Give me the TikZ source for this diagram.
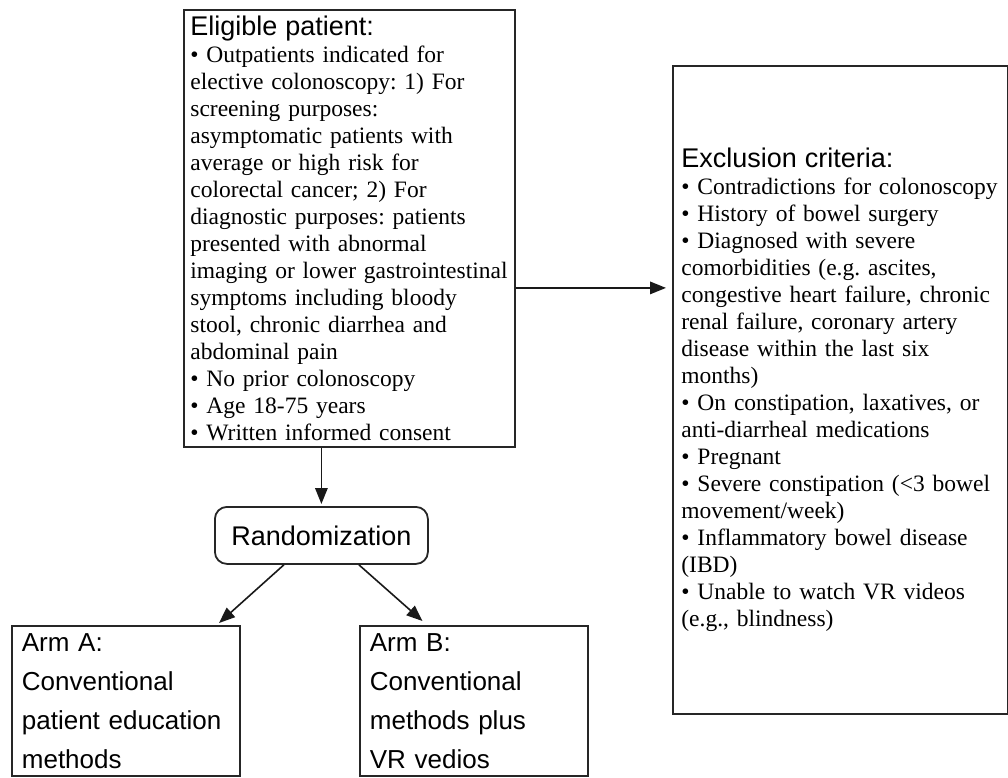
\documentclass[tikz,border=0pt]{standalone}
\usepackage{fontspec}
\setmainfont{Liberation Serif}
\setsansfont{Liberation Sans}
\usetikzlibrary{arrows.meta, positioning}
\frenchspacing
\newcommand{\hdfont}{\fontsize{27}{32}\selectfont\sffamily}
\newcommand{\bodyfont}{\fontsize{23.5}{27}\selectfont\rmfamily}
\newcommand{\armfont}{\fontsize{26}{39}\selectfont\sffamily}
\tikzset{
  block/.style = {rectangle, draw=black!85, line width=1.8pt,
                  anchor=north west, align=left, inner ysep=0pt},
  arr/.style   = {-{Triangle[length=16pt,width=12.5pt]}, line width=1.6pt,
                  black!90},
}

\begin{document}
\begin{tikzpicture}[
  x=1pt, y=-1pt,
  box/.style={block, font=\bodyfont},
  rbox/.style={block, rounded corners=12pt, align=center, font=\hdfont,
               minimum width=213pt, minimum height=57pt, anchor=north west},
  armbox/.style={block, font=\armfont, text width=208pt, inner xsep=10pt,
                 minimum height=150pt},
]
  \useasboundingbox (0,0) rectangle (1008,777);

  \node[box, text width=318pt, inner xsep=6.5pt, minimum height=437pt] (elig) at (183,9)
    {{\hdfont Eligible patient:}\\
     • Outpatients indicated for\\
     elective colonoscopy: 1) For\\
     screening purposes:\\
     asymptomatic patients with\\
     average or high risk for\\
     colorectal cancer; 2) For\\
     diagnostic purposes: patients\\
     presented with abnormal\\
     imaging or lower gastrointestinal\\
     symptoms including bloody\\
     stool, chronic diarrhea and\\
     abdominal pain\\
     • No prior colonoscopy\\
     • Age 18-75 years\\
     • Written informed consent};

  \node[box, text width=318pt, inner xsep=8.5pt, minimum height=648pt] (excl) at (672,65)
    {{\hdfont Exclusion criteria:}\\
     • Contradictions for colonoscopy\\
     • History of bowel surgery\\
     • Diagnosed with severe\\
     comorbidities (e.g. ascites,\\
     congestive heart failure, chronic\\
     renal failure, coronary artery\\
     disease within the last six\\
     months)\\
     • On constipation, laxatives, or\\
     anti-diarrheal medications\\
     • Pregnant\\
     • Severe constipation (<3 bowel\\
     movement/week)\\
     • Inflammatory bowel disease\\
     (IBD)\\
     • Unable to watch VR videos\\
     (e.g., blindness)};

  \node[rbox] (rand) at (214,506) {Randomization};

  \node[armbox] (armA) at (11,625)
    {Arm A:\\Conventional\\patient education\\methods};
  \node[armbox] (armB) at (359,625)
    {Arm B:\\Conventional\\methods plus\\VR vedios};

  % connectors
  \coordinate (e1) at ([yshift=-59.5pt]elig.east);
  \draw[arr, shorten >=6pt] (e1) -- (e1 -| excl.west);
  \draw[arr, shorten >=2pt] (rand.north |- elig.south) -- (rand.north);
  \draw[arr, shorten >=3pt] ([xshift=-37.5pt]rand.south) -- ([xshift=-24pt]armA.north east);
  \draw[arr, shorten >=6pt] ([xshift=37.5pt]rand.south) -- ([xshift=68pt]armB.north west);
\end{tikzpicture}
\end{document}
